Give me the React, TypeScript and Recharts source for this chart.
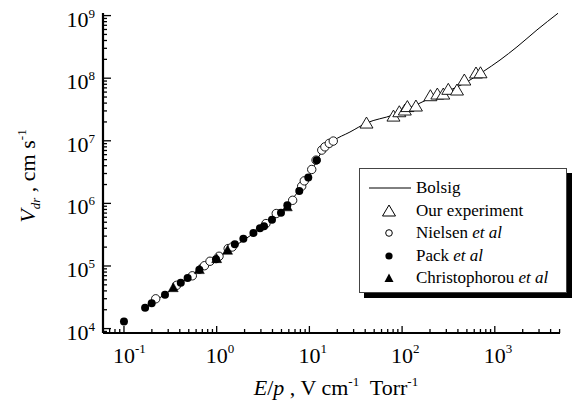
import React from 'react';
import { ComposedChart, Line, Scatter, XAxis, YAxis, Legend } from 'recharts';

// Bolsig curve
const bolsigE = [0.169, 0.355, 1.0, 2.02, 3.76, 5.73, 7.72, 9.9, 11.8, 13.7, 18.0, 27.4, 41.3, 79.8, 141, 238, 391, 540, 746, 1138, 1734, 2851, 4810];
const bolsigV = [2.14e4, 4.56e4, 1.33e5, 2.67e5, 5.19e5, 9.0e5, 1.63e6, 2.72e6, 4.56e6, 6.84e6, 9.9e6, 1.38e7, 1.92e7, 2.58e7, 3.73e7, 5.38e7, 7.23e7, 9.35e7, 1.27e8, 1.95e8, 3.16e8, 5.9e8, 1.09e9];

// Our experiment (open triangles)
const oursE = [41.3, 80.7, 93.3, 107, 114, 141, 202, 240, 278, 315, 391, 469, 627, 701];
const oursV = [1.92e7, 2.48e7, 2.91e7, 3.10e7, 3.52e7, 3.59e7, 5.25e7, 5.58e7, 5.58e7, 6.64e7, 6.47e7, 9.35e7, 1.21e8, 1.22e8];

// Nielsen et al (open circles)
const nielsenE = [0.22, 0.37, 0.546, 0.738, 0.847, 1.06, 1.33, 1.47, 3.40, 4.39, 6.6, 8.26, 8.81, 10.6, 11.8, 13.6, 14.7, 16.4, 18.1];
const nielsenV = [2.99e4, 4.91e4, 6.97e4, 1.01e5, 1.19e5, 1.43e5, 1.90e5, 2.01e5, 4.76e5, 6.89e5, 1.12e6, 1.88e6, 2.29e6, 3.48e6, 4.91e6, 7.1e6, 8.0e6, 9.1e6, 9.9e6];

// Pack et al (filled circles)
const packE = [0.1, 0.169, 0.199, 0.277, 0.41, 0.486, 0.65, 0.983, 1.57, 1.94, 2.49, 2.93, 3.24, 3.95, 4.94, 5.78, 7.78, 9.73, 12.0];
const packV = [1.30e4, 2.16e4, 2.53e4, 3.46e4, 5.4e4, 6.45e4, 8.7e4, 1.28e5, 2.22e5, 2.72e5, 3.37e5, 4.01e5, 4.32e5, 5.48e5, 7.1e5, 9.36e5, 1.58e6, 2.6e6, 4.9e6];

// Christophorou et al (filled triangles)
const chrisE = [0.34, 0.65, 1.0, 1.31, 5.78];
const chrisV = [4.5e4, 8.75e4, 1.31e5, 1.78e5, 8.8e5];

// Axis ticks
const xDecades = [-2, -1, 0, 1, 2, 3];
const yDecades = [3, 4, 5, 6, 7, 8];
const minorMultipliers = [1, 2, 3, 4, 5, 6, 7, 8, 9];
const xDomain = [0.0594, 5050];
const yDomain = [8500, 1.1e9];

const zip = (es: number[], vs: number[]) => es.map((e, i) => ({ e, v: vs[i] }));
const bolsig = zip(bolsigE, bolsigV);
const ours = zip(oursE, oursV);
const nielsen = zip(nielsenE, nielsenV);
const pack = zip(packE, packV);
const chris = zip(chrisE, chrisV);

const buildTicks = (decades: number[], dom: number[]) => {
  const out: number[] = [];
  decades.forEach((d) => {
    minorMultipliers.forEach((m) => {
      const v = m * Math.pow(10, d);
      if (v >= dom[0] && v <= dom[1]) out.push(v);
    });
  });
  const top = Math.pow(10, decades[decades.length - 1] + 1);
  if (top >= dom[0] && top <= dom[1]) out.push(top);
  return out;
};
const xTicks = buildTicks(xDecades, xDomain);
const yTicks = buildTicks(yDecades, yDomain);

const FONT = "'Liberation Serif', Tinos, 'DejaVu Serif', Times, serif";

const majorExp = (v: number) => {
  const l = Math.log10(v);
  const r = Math.round(l);
  return Math.abs(l - r) < 1e-6 ? r : null;
};

const XTick = (props: any) => {
  const { x, y, payload } = props;
  const exp = majorExp(payload.value);
  const len = exp !== null ? 7 : 4;
  return (
    <g>
      <line x1={x} x2={x} y1={y} y2={y - len} stroke="#000" strokeWidth={1.3} />
      {exp !== null && (
        <text x={x - 11} y={y + 30} style={{ fontFamily: FONT, fontSize: 22 }} fill="#000" textAnchor="start">
          <tspan>10</tspan>
          <tspan dy={-10} style={{ fontSize: 13 }}>{exp === -1 ? '-1' : String(exp)}</tspan>
        </text>
      )}
    </g>
  );
};

const YTick = (props: any) => {
  const { x, y, payload } = props;
  const exp = majorExp(payload.value);
  const len = exp !== null ? 8 : 4;
  return (
    <g>
      <line x1={x} x2={x + len} y1={y} y2={y} stroke="#000" strokeWidth={1.3} />
      {exp !== null && (
        <text x={x - 8} y={y + 11} style={{ fontFamily: FONT, fontSize: 22 }} fill="#000" textAnchor="end">
          <tspan>10</tspan>
          <tspan dy={-9} style={{ fontSize: 13 }}>{String(exp)}</tspan>
        </text>
      )}
    </g>
  );
};

const OpenTriangle = (p: any) => (
  <polygon
    points={`${p.cx},${p.cy - 6} ${p.cx - 6.5},${p.cy + 5} ${p.cx + 6.5},${p.cy + 5}`}
    fill="#fff"
    stroke="#000"
    strokeWidth={0.9}
  />
);
const FilledTriangle = (p: any) => (
  <polygon
    points={`${p.cx},${p.cy - 5} ${p.cx - 5},${p.cy + 4} ${p.cx + 5},${p.cy + 4}`}
    fill="#000"
    stroke="#000"
    strokeWidth={0.5}
  />
);
const OpenCircle = (p: any) => <circle cx={p.cx} cy={p.cy} r={4.2} fill="#fff" stroke="#000" strokeWidth={0.9} />;
const FilledCircle = (p: any) => <circle cx={p.cx} cy={p.cy} r={4} fill="#000" />;

const LegendBox = () => {
  const rowStyle: React.CSSProperties = { display: 'flex', alignItems: 'center', height: 22.5 };
  const textStyle: React.CSSProperties = { fontFamily: FONT, fontSize: 17, color: '#000', whiteSpace: 'pre', lineHeight: '22.5px' };
  const marker = (content: React.ReactNode) => (
    <svg width={56} height={22} style={{ flex: 'none' }}>{content}</svg>
  );
  return (
    <div
      style={{
        width: 208,
        height: 125,
        boxSizing: 'border-box',
        border: '1px solid #444',
        background: '#fff',
        boxShadow: '5px 5px 0 #000',
        paddingTop: 8,
        fontFamily: FONT,
      }}
    >
      <div style={rowStyle}>
        {marker(<line x1={9} x2={51} y1={11} y2={11} stroke="#000" strokeWidth={1} />)}
        <span style={textStyle}>Bolsig</span>
      </div>
      <div style={rowStyle}>
        {marker(<polygon points="29,5 22.5,16 35.5,16" fill="#fff" stroke="#000" strokeWidth={1} />)}
        <span style={textStyle}>Our experiment</span>
      </div>
      <div style={rowStyle}>
        {marker(<circle cx={29} cy={11} r={3.3} fill="#fff" stroke="#000" strokeWidth={1} />)}
        <span style={textStyle}>
          Nielsen <i>et al</i>
        </span>
      </div>
      <div style={rowStyle}>
        {marker(<circle cx={29} cy={11} r={3.6} fill="#000" />)}
        <span style={textStyle}>
          Pack <i>et al</i>
        </span>
      </div>
      <div style={rowStyle}>
        {marker(<polygon points="29,6.5 24.5,15 33.5,15" fill="#000" />)}
        <span style={textStyle}>
          Christophorou <i>et al</i>
        </span>
      </div>
    </div>
  );
};

const XTitle = () => (
  <text x={336} y={395} style={{ fontFamily: FONT, fontSize: 22, whiteSpace: 'pre' }} fill="#000" textAnchor="middle">
    <tspan fontStyle="italic">E</tspan>
    <tspan>/</tspan>
    <tspan fontStyle="italic">p</tspan>
    <tspan> , V cm</tspan>
    <tspan dy={-9} style={{ fontSize: 13 }}>-1</tspan>
    <tspan dy={9}>  Torr</tspan>
    <tspan dy={-9} style={{ fontSize: 13 }}>-1</tspan>
  </text>
);

const YTitle = () => (
  <text
    x={0}
    y={0}
    transform="translate(35,176) rotate(-90)"
    style={{ fontFamily: FONT, fontSize: 22, whiteSpace: 'pre' }}
    fill="#000"
    textAnchor="middle"
  >
    <tspan fontStyle="italic">V</tspan>
    <tspan fontStyle="italic" style={{ fontSize: 13 }} dy={5}>dr</tspan>
    <tspan dy={-5}> , cm s</tspan>
    <tspan dy={-9} style={{ fontSize: 13 }}>-1</tspan>
  </text>
);

export default function App() {
  return (
    <div style={{ position: 'absolute', left: 0, top: 0, width: 574, height: 404, background: '#fff', fontFamily: FONT }}>
      <ComposedChart width={574} height={404} margin={{ top: 13, right: 14, left: 0, bottom: 0 }} style={{ fontFamily: FONT }}>
        <XAxis
          type="number"
          dataKey="e"
          scale="log"
          domain={xDomain}
          allowDataOverflow
          ticks={xTicks}
          interval={0}
          tickSize={0}
          tickMargin={0}
          tickLine={false}
          tick={<XTick />}
          height={71}
          axisLine={{ stroke: '#000', strokeWidth: 2.2 }}
          label={<XTitle />}
        />
        <YAxis
          type="number"
          dataKey="v"
          scale="log"
          domain={yDomain}
          allowDataOverflow
          ticks={yTicks}
          interval={0}
          tickSize={0}
          tickMargin={0}
          tickLine={false}
          tick={<YTick />}
          width={103}
          axisLine={{ stroke: '#000', strokeWidth: 2.2 }}
          label={<YTitle />}
        />
        <Legend
          layout="vertical"
          align="center"
          verticalAlign="middle"
          content={() => <LegendBox />}
          wrapperStyle={{ left: 359, top: 168, width: 214, height: 131 }}
        />
        <Line
          data={bolsig}
          dataKey="v"
          type="monotone"
          dot={false}
          stroke="#000"
          strokeWidth={1}
          isAnimationActive={false}
          legendType="none"
        />
        <Scatter data={ours} dataKey="v" shape={OpenTriangle} isAnimationActive={false} />
        <Scatter data={nielsen} dataKey="v" shape={OpenCircle} isAnimationActive={false} />
        <Scatter data={pack} dataKey="v" shape={FilledCircle} isAnimationActive={false} />
        <Scatter data={chris} dataKey="v" shape={FilledTriangle} isAnimationActive={false} />
      </ComposedChart>
    </div>
  );
}
